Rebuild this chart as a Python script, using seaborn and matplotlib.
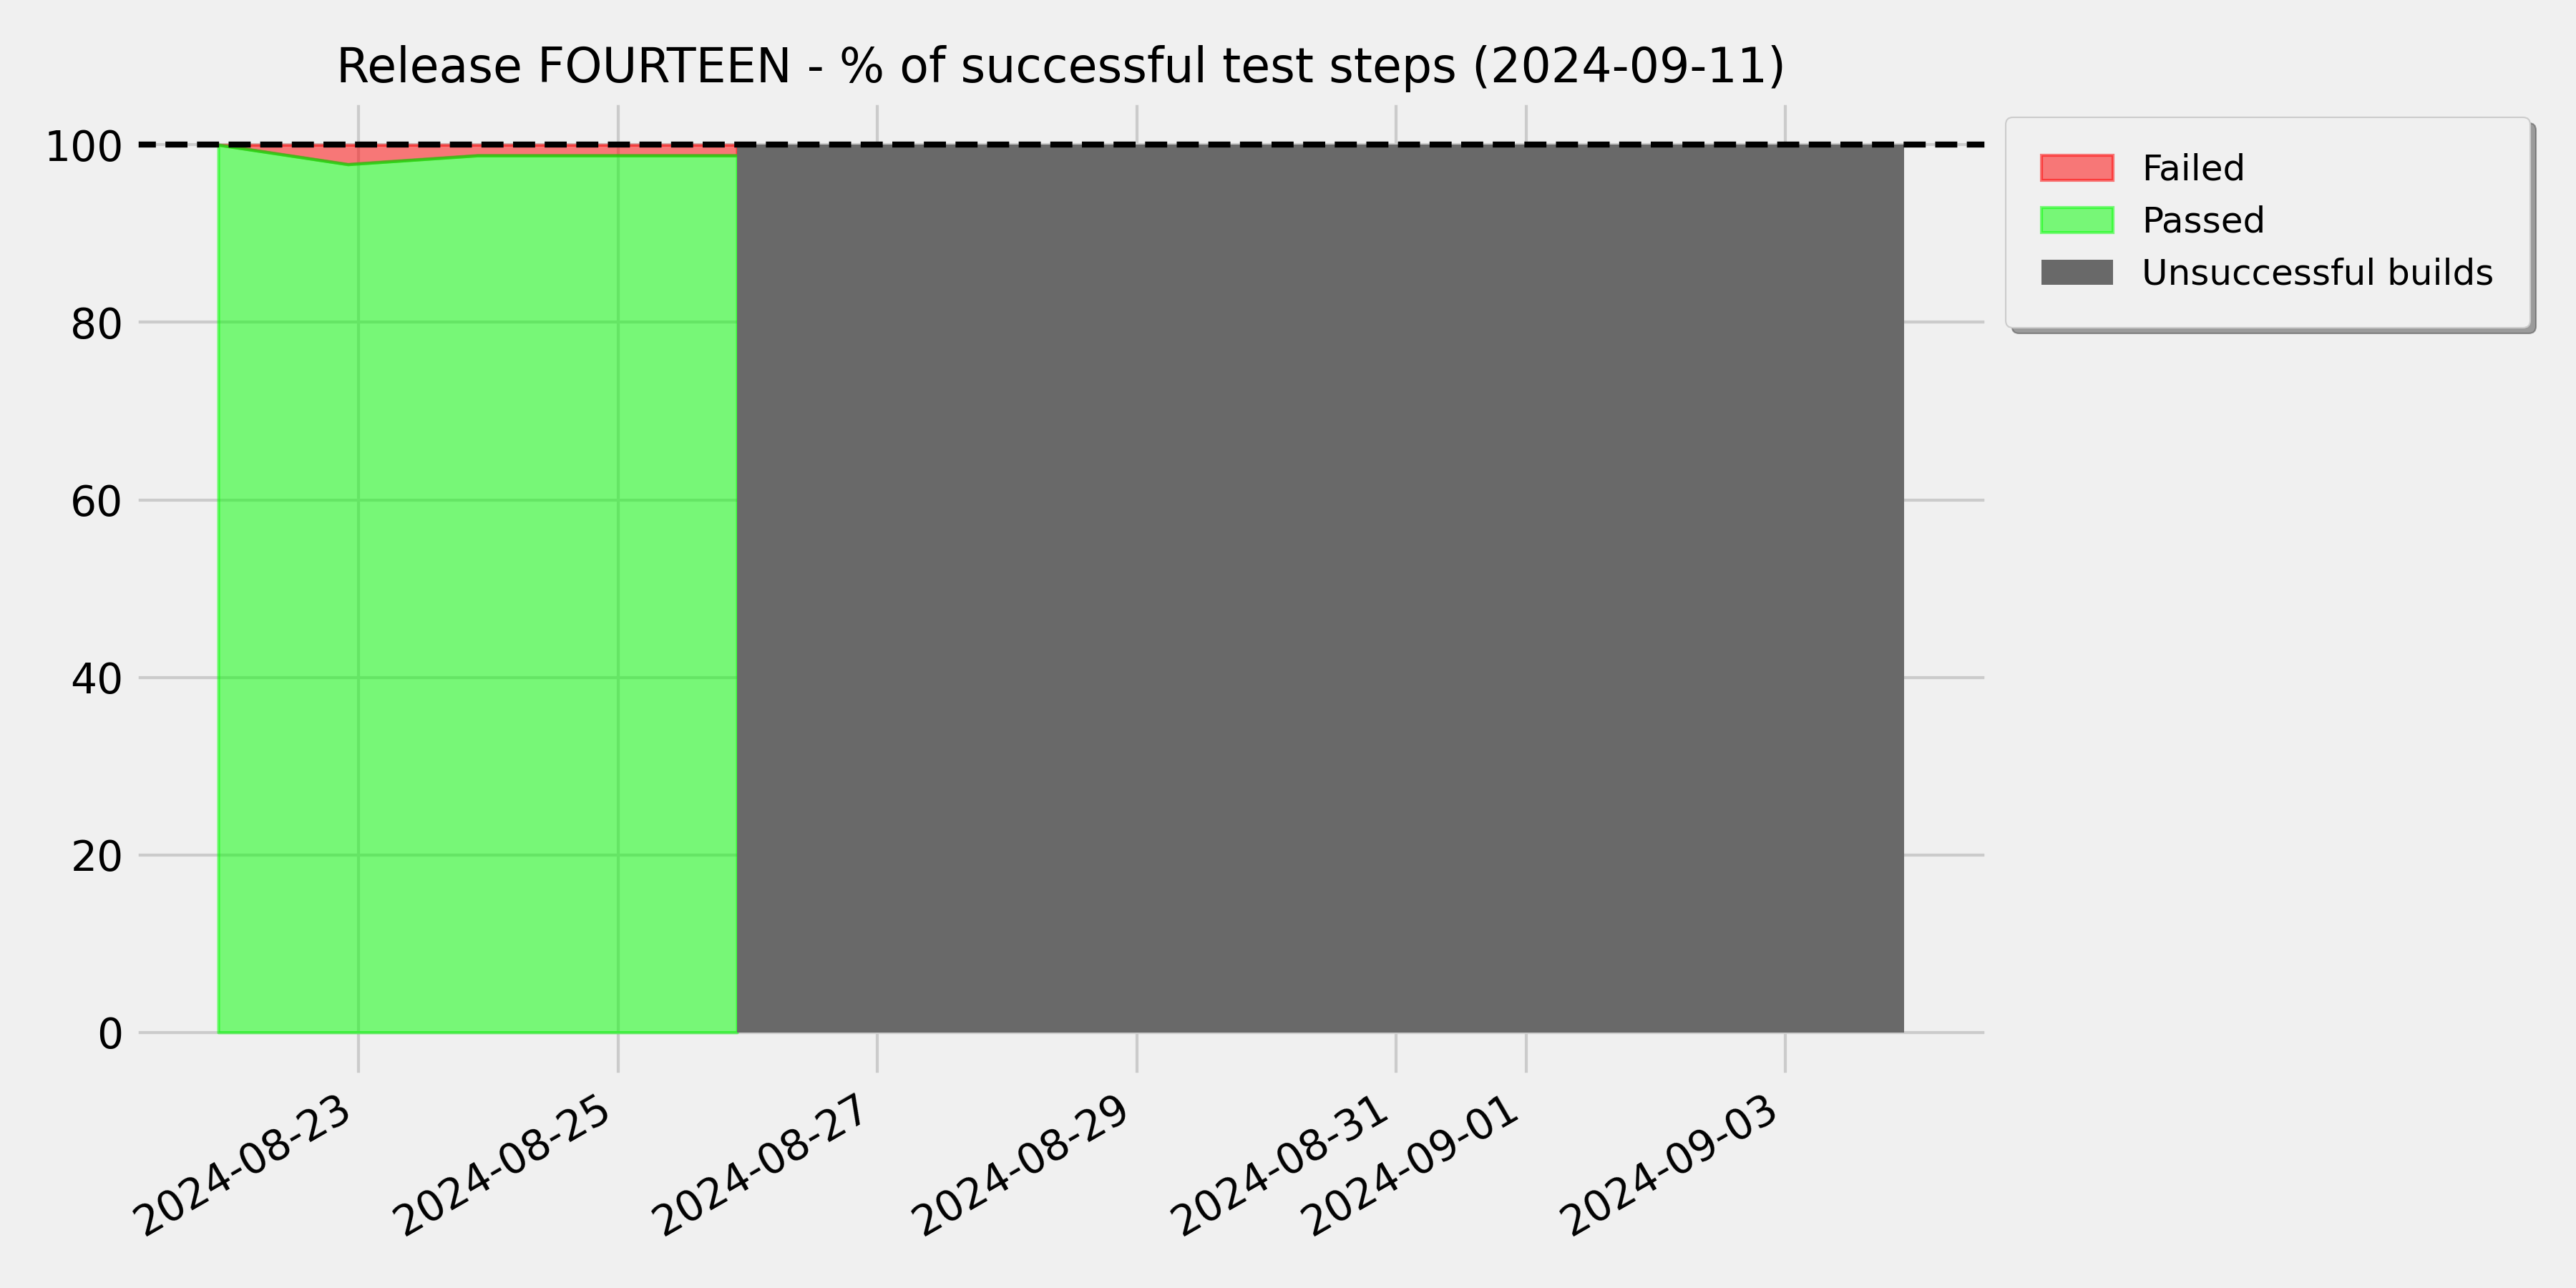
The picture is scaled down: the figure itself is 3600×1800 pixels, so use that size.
import matplotlib
matplotlib.use("Agg")
import matplotlib.pyplot as plt
import matplotlib.dates as mdates
import seaborn as sns
import pandas as pd
import numpy as np

# ---- data ----
test_dates = ["2024-08-21 22:00", "2024-08-22 22:00", "2024-08-23 22:00",
              "2024-08-24 22:00", "2024-08-25 22:00"]
passed_pct = [100.0, 97.8, 98.8, 98.8, 98.8]
failed_pct = [0.0, 2.2, 1.2, 1.2, 1.2]

unsuccessful_dates = ["2024-08-25 22:00", "2024-08-26 22:00", "2024-08-27 22:00",
                      "2024-08-28 22:00", "2024-08-29 22:00", "2024-08-30 22:00",
                      "2024-08-31 22:00", "2024-09-01 22:00", "2024-09-02 22:00",
                      "2024-09-03 22:00"]
unsuccessful_pct = [100, 100, 100, 100, 100, 100, 100, 100, 100, 100]

target_pct = 100
title = "Release FOURTEEN - % of successful test steps (2024-09-11)"

# ---- frames ----
df_tests = pd.DataFrame({
    "date": pd.to_datetime(test_dates),
    "passed": passed_pct,
    "failed": failed_pct,
})
df_tests["top"] = df_tests["passed"] + df_tests["failed"]
df_unsucc = pd.DataFrame({
    "date": pd.to_datetime(unsuccessful_dates),
    "value": unsuccessful_pct,
})

plt.style.use("fivethirtyeight")
plt.rcParams["font.family"] = ["DejaVu Sans"]

fig, ax = plt.subplots(figsize=(12, 6), dpi=300)

ax.fill_between(df_tests["date"], df_tests["passed"], df_tests["top"],
                facecolor=(1, 0, 0, 0.5), edgecolor=(1, 0, 0, 0.5),
                linewidth=1.0, label="Failed")
ax.fill_between(df_tests["date"], 0, df_tests["passed"],
                facecolor=(0, 1, 0, 0.5), edgecolor=(0, 1, 0, 0.5),
                linewidth=1.0, label="Passed")
sns.lineplot(data=df_tests, x="date", y="passed", ax=ax,
             color=(0.1, 0.8, 0.1), alpha=0.5, linewidth=1.0, legend=False)
ax.fill_between(df_unsucc["date"], 0, df_unsucc["value"],
                facecolor="dimgray", edgecolor="dimgray", linewidth=0,
                label="Unsuccessful builds")

ax.axhline(target_pct, color="black", linestyle="--", linewidth=2)

ax.xaxis.set_major_locator(mdates.DayLocator(bymonthday=range(1, 32, 2)))
ax.xaxis.set_major_formatter(mdates.DateFormatter("%Y-%m-%d"))
ax.set_xlabel("")
ax.set_ylabel("")
ax.set_title(title, loc="center", fontsize=16)

fig.autofmt_xdate()
for lab in ax.get_xticklabels():
    lab.set_rotation(30)
    lab.set_ha("right")

leg = ax.legend(loc="upper left", bbox_to_anchor=(1.0093, 0.983),
                borderaxespad=0, fontsize=12, shadow=True, fancybox=True,
                borderpad=1.0, framealpha=1.0, facecolor="#f0f0f0",
                edgecolor="#cccccc")

fig.subplots_adjust(left=0.052, right=0.772, top=0.922, bottom=0.164)
fig.savefig("out.png", dpi=300, facecolor="#f0f0f0")
